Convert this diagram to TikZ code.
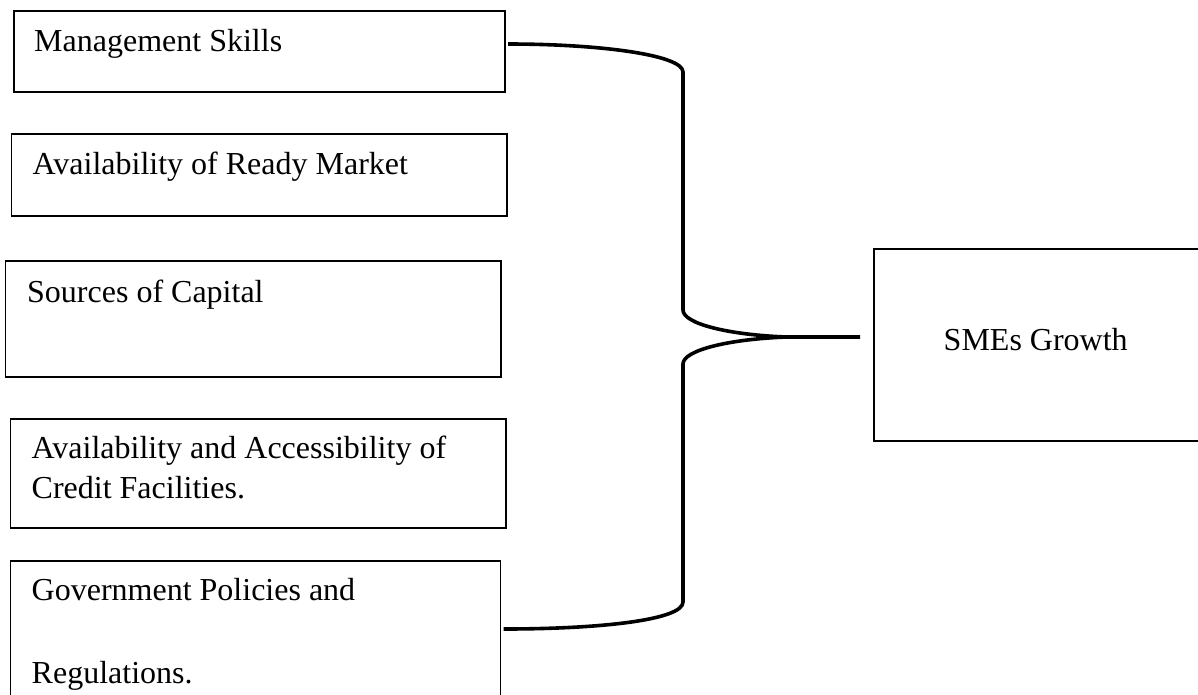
\documentclass[tikz,border=0pt]{standalone}
\usepackage{fontspec}
\setmainfont{Liberation Serif}
\begin{document}
\begin{tikzpicture}[x=1pt,y=-1pt,
  boxstyle/.style={draw=black,line width=1.6pt,anchor=north west,inner sep=0pt,outer sep=0pt},
  txt/.style={anchor=base west,inner sep=0pt,font=\fontsize{32}{38}\selectfont},
  bracestyle/.style={draw=black,line width=3.6pt,line cap=butt,line join=round}]
\useasboundingbox (0,0) rectangle (1198,694);
\clip (0,0) rectangle (1198,694);
\fill[white] (0,0) rectangle (1198,694);
% boxes
\node[boxstyle,minimum width=491pt,minimum height=81pt] (b1) at (14,11) {};
\node[boxstyle,minimum width=495.5pt,minimum height=82pt] (b2) at (11.5,134) {};
\node[boxstyle,minimum width=495.5pt,minimum height=116pt] (b3) at (5.5,261) {};
\node[boxstyle,minimum width=495.5pt,minimum height=109pt] (b4) at (10.5,419) {};
\node[boxstyle,minimum width=490pt,minimum height=170pt] (b5) at (10.5,561) {};
\node[boxstyle,minimum width=340pt,minimum height=192pt] (g) at (874,249) {};
% texts
\node[txt] (t1) at (34,51) {Management Skills};
\node[txt] (t2) at (32.5,174) {Availability of Ready Market};
\node[txt] (t3) at (27,302) {Sources of Capital};
\node[txt] (t4a) at (31.5,458) {Availability and Accessibility of};
\node[txt] (t4b) at (31.5,498) {Credit Facilities.};
\node[txt] (t5a) at (31.5,600) {Government Policies and};
\node[txt] (t5b) at (31.5,683) {Regulations.};
\node[txt] (tg) at (943.5,350) {SMEs Growth};
% brace connector
\coordinate (s1) at ([xshift=3pt]b1.east |- 0,44);
\coordinate (s5) at ([xshift=3pt]b5.east |- 0,629);
\coordinate (tip) at (787,337);
\coordinate (e) at ([xshift=-14pt]g.west |- 0,337);
\draw[bracestyle] (s1) .. controls (600,44) and (683,55) .. (683,72)
  -- (683,310) .. controls (683,324) and (730,335) .. (tip) -- (e);
\draw[bracestyle] (tip) .. controls (730,339) and (683,350) .. (683,364)
  -- (683,602) .. controls (683,620) and (600,629) .. (s5);
\end{tikzpicture}
\end{document}
